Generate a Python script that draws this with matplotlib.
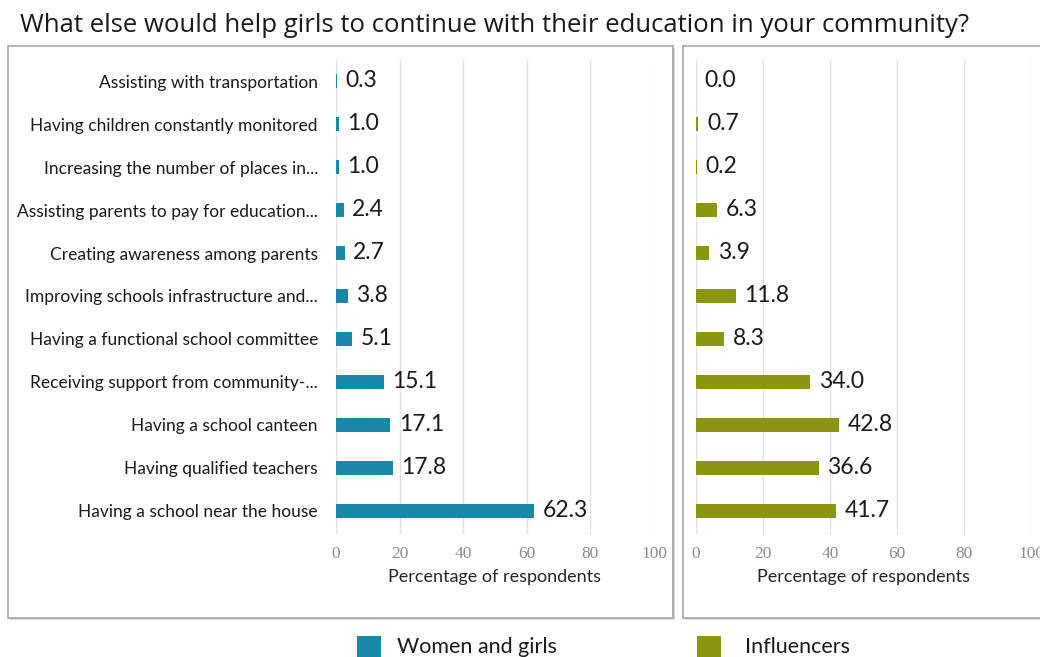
import matplotlib
matplotlib.use("Agg")
import matplotlib.pyplot as plt
from matplotlib.patches import Rectangle

categories = [
    "Having a school near the house",
    "Having qualified teachers",
    "Having a school canteen",
    "Receiving support from community-...",
    "Having a functional school committee",
    "Improving schools infrastructure and...",
    "Creating awareness among parents",
    "Assisting parents to pay for education...",
    "Increasing the number of places in...",
    "Having children constantly monitored",
    "Assisting with transportation",
]
women_girls = [62.3, 17.8, 17.1, 15.1, 5.1, 3.8, 2.7, 2.4, 1.0, 1.0, 0.3]
influencers = [41.7, 36.6, 42.8, 34.0, 8.3, 11.8, 3.9, 6.3, 0.2, 0.7, 0.0]
series_names = ["Women and girls", "Influencers"]
x_ticks = [0, 20, 40, 60, 80, 100]
xlabel = "Percentage of respondents"
title = "What else would help girls to continue with their education in your community?"

TEAL = "#1789a6"
OLIVE = "#8c950f"
LABEL_FONT = "Lato"
W, H = 1040, 657

fig = plt.figure(figsize=(W / 100, H / 100), dpi=100)
fig.patch.set_facecolor("white")


def fx(px):
    return px / W


def fy(py):
    return 1 - py / H


# Panel frames, kept behind the axes
for x0, x1 in [(8, 673), (683, 1060)]:
    fig.patches.append(Rectangle((fx(x0) + 0.002, fy(618) - 0.003), fx(x1 - x0), fy(46) - fy(618),
                                 transform=fig.transFigure, facecolor="#d8d8d8",
                                 edgecolor="none", zorder=-2))
    fig.patches.append(Rectangle((fx(x0), fy(618)), fx(x1 - x0), fy(46) - fy(618),
                                 transform=fig.transFigure, facecolor="white",
                                 edgecolor="#a6a6a6", linewidth=1.2, zorder=-1))

bottom = fy(535)
height = fy(60) - fy(535)
ax1 = fig.add_axes([fx(336), bottom, fx(654 - 336), height])
ax2 = fig.add_axes([fx(696), bottom, fx(1031 - 696), height])

ypos = list(range(len(categories)))
for ax, vals, color in [(ax1, women_girls, TEAL), (ax2, influencers, OLIVE)]:
    ax.set_facecolor("none")
    ax.barh(ypos, vals, height=0.34, color=color, zorder=3)
    for y, v in zip(ypos, vals):
        ax.text(v + 2.6, y + 0.02, f"{v:.1f}", va="center", ha="left",
                fontsize=16.5, family=LABEL_FONT, color="#1a1a1a", zorder=4)
    ax.set_xlim(0, 100)
    ax.set_ylim(-0.56, len(categories) - 0.51)
    ax.set_xticks(x_ticks)
    ax.set_xticklabels([str(t) for t in x_ticks], family="Liberation Serif",
                       fontsize=12.5, color="#8c8c8c")
    ax.tick_params(axis="x", length=0, pad=8)
    ax.tick_params(axis="y", length=0)
    ax.grid(axis="x", color="#e3e3e3", linewidth=1.0, zorder=0)
    ax.set_axisbelow(True)
    for s in ax.spines.values():
        s.set_visible(False)
    ax.set_xlabel(xlabel, family=LABEL_FONT, fontsize=13, color="#262626", labelpad=5)

ax1.set_yticks(ypos)
ax1.set_yticklabels(categories, family=LABEL_FONT, fontsize=12.5, color="#1a1a1a")
ax1.tick_params(axis="y", pad=13)
ax2.set_yticks([])

fig.text(fx(20), fy(25), title, ha="left", va="center", family="Open Sans",
         fontsize=18.5, color="#1a1a1a")

# Legend
for (sx, tx), name, color in [((357, 397), series_names[0], TEAL), ((697, 745), series_names[1], OLIVE)]:
    fig.patches.append(Rectangle((fx(sx), fy(660)), fx(24), fy(636) - fy(660),
                                 transform=fig.transFigure, facecolor=color,
                                 edgecolor="none"))
    fig.text(fx(tx), fy(647), name, ha="left", va="center", family=LABEL_FONT,
             fontsize=15.5, color="#1a1a1a")

fig.savefig("out.png", dpi=100, facecolor="white")
